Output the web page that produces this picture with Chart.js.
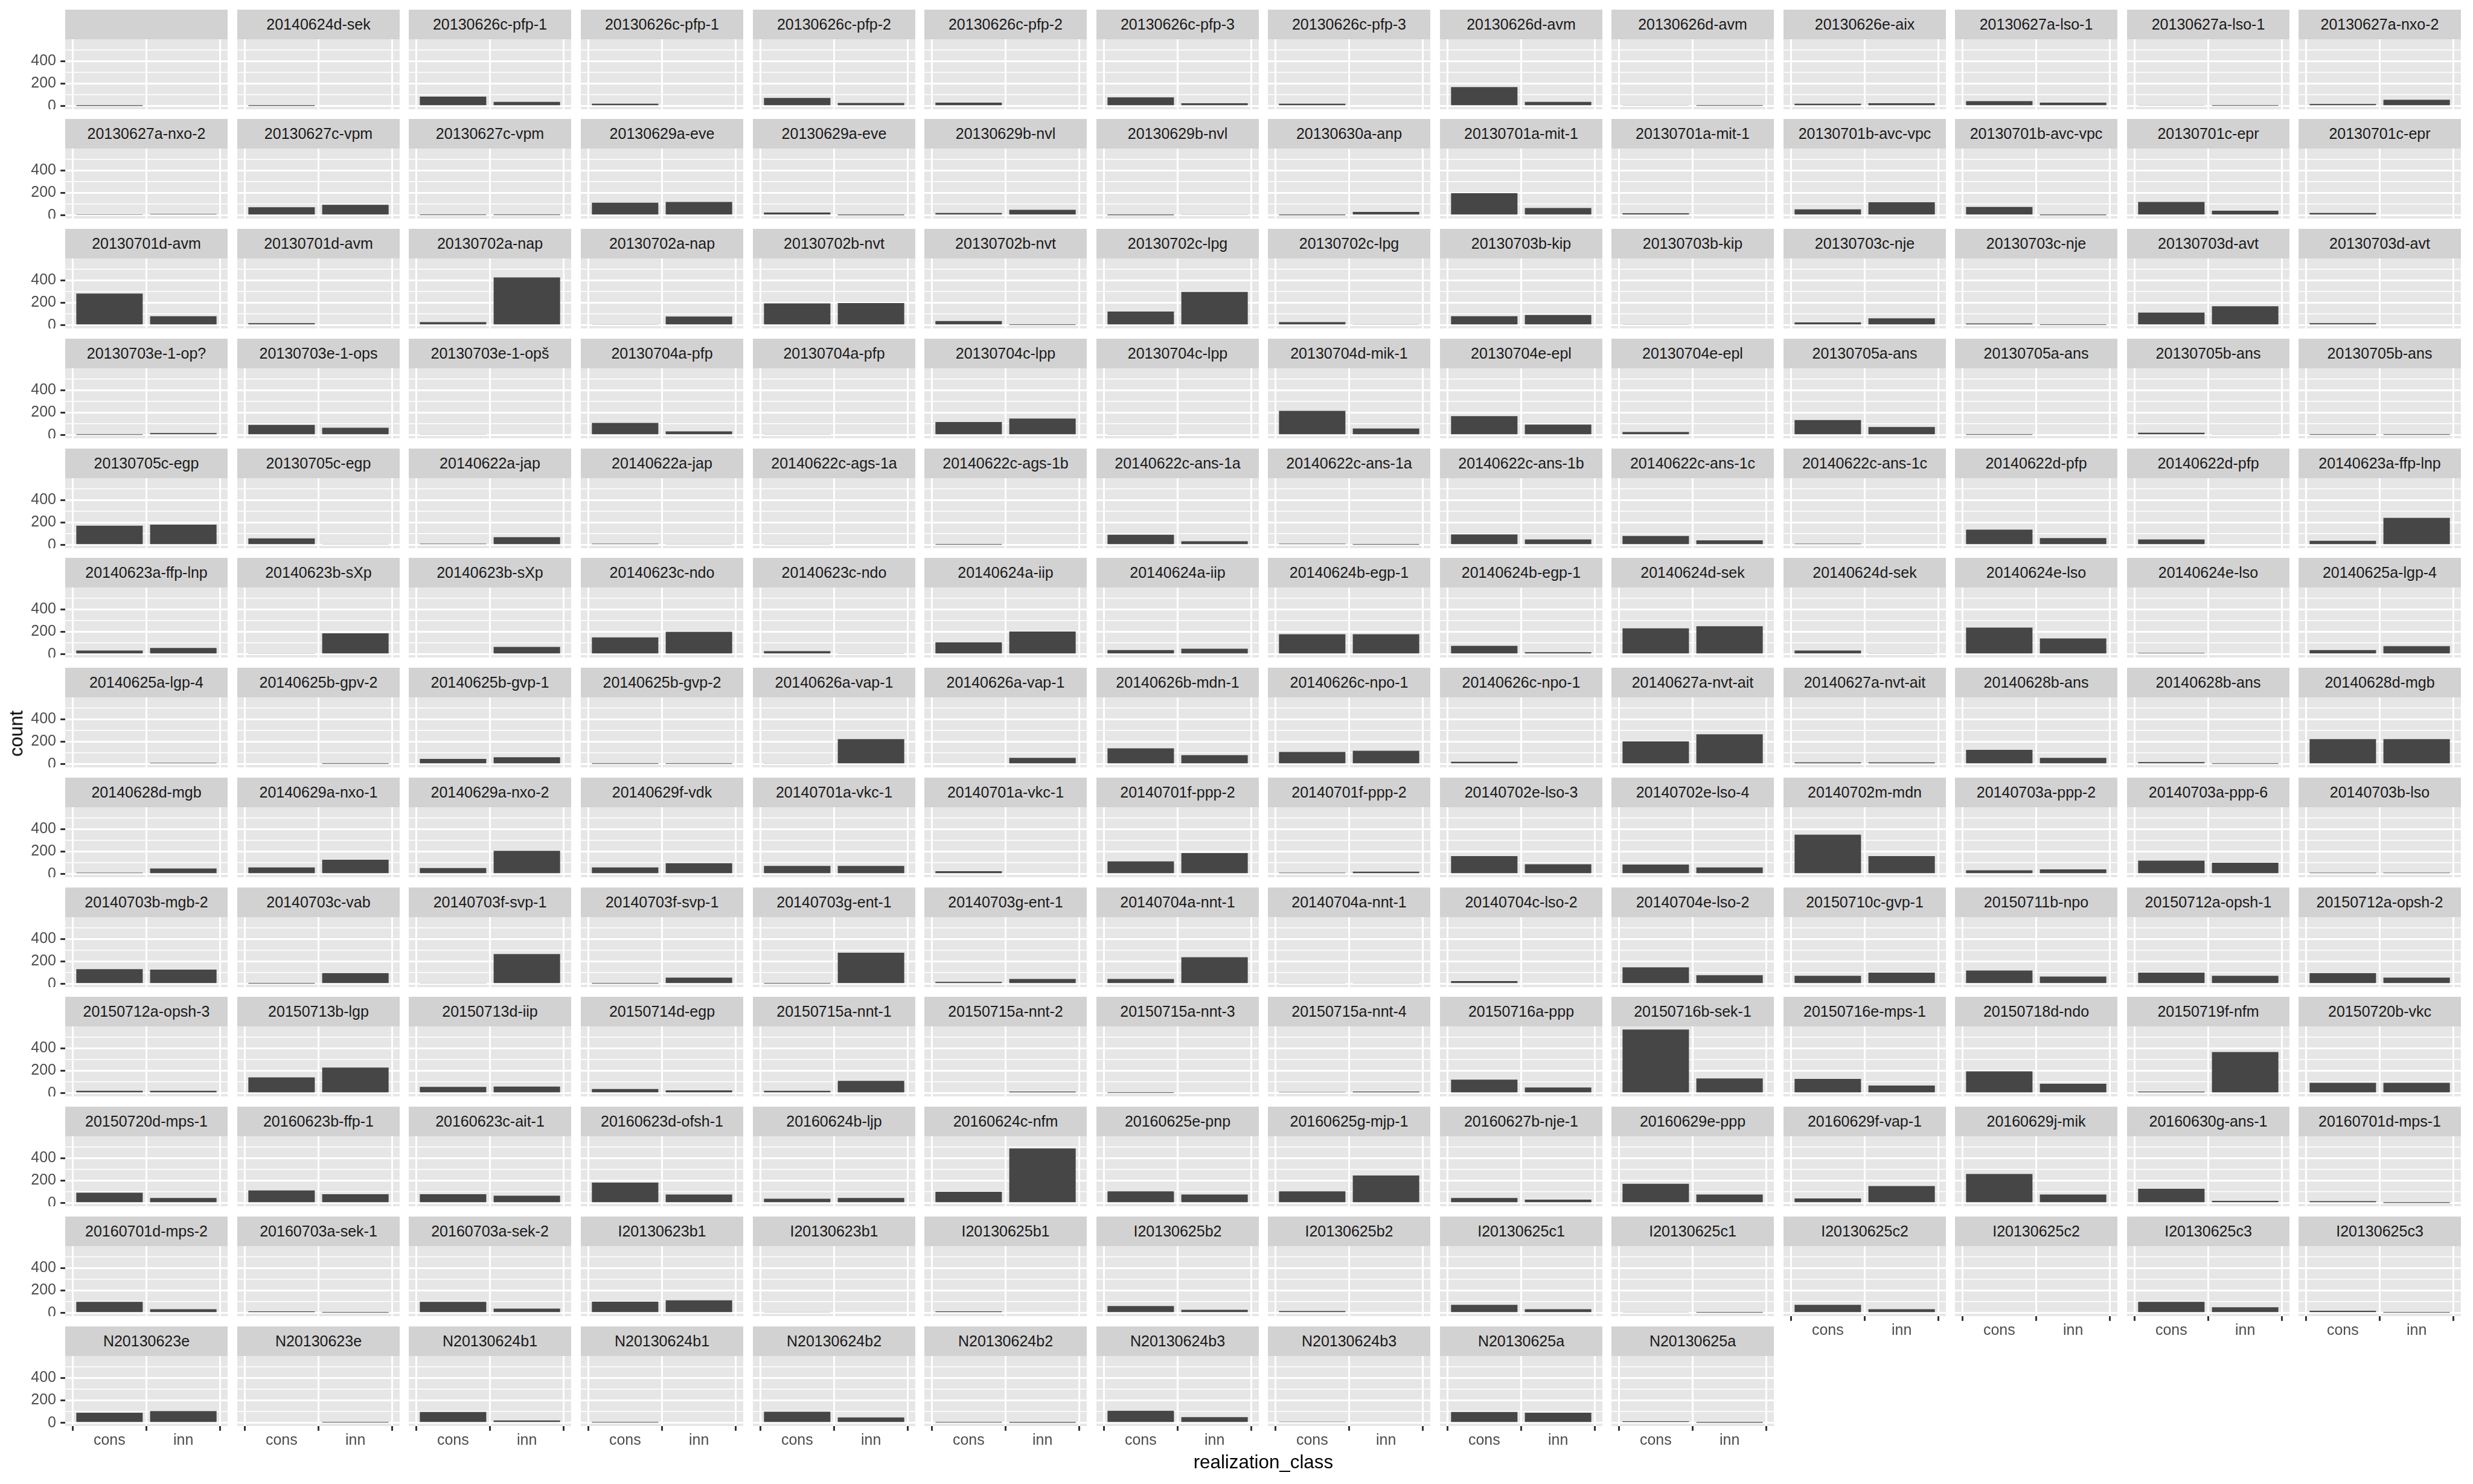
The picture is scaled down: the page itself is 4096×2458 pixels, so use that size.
<!DOCTYPE html>
<html>
<head>
<meta charset="utf-8">
<script src="https://cdn.jsdelivr.net/npm/chart.js@4.4.0/dist/chart.umd.min.js"></script>
<style>
html, body { margin: 0; padding: 0; background: #ffffff; }
#root { position: relative; width: 4096px; height: 2458px; overflow: hidden; font-family: "Liberation Sans", Arial, Helvetica, sans-serif; }
.strip { position: absolute; background: #D2D2D2; color: #1A1A1A; font-size: 25px; line-height: 1; display: flex; align-items: center; justify-content: center; white-space: nowrap; overflow: hidden; }
canvas { position: absolute; }
.axtitle { position: absolute; color: #000000; font-size: 31.3px; line-height: 1; white-space: nowrap; transform: translate(-50%, -50%); }
</style>
</head>
<body>
<div id="root"></div>
<script>
// ---------------- data ----------------
const categories = ['cons', 'inn'];
const yTickLabels = [0, 200, 400];
const yGridBreaks = [0, 100, 200, 300, 400, 500];

const facetLabels = [
  '', '20140624d-sek', '20130626c-pfp-1', '20130626c-pfp-1', '20130626c-pfp-2', '20130626c-pfp-2', '20130626c-pfp-3', '20130626c-pfp-3', '20130626d-avm', '20130626d-avm', '20130626e-aix', '20130627a-lso-1', '20130627a-lso-1', '20130627a-nxo-2',
  '20130627a-nxo-2', '20130627c-vpm', '20130627c-vpm', '20130629a-eve', '20130629a-eve', '20130629b-nvl', '20130629b-nvl', '20130630a-anp', '20130701a-mit-1', '20130701a-mit-1', '20130701b-avc-vpc', '20130701b-avc-vpc', '20130701c-epr', '20130701c-epr',
  '20130701d-avm', '20130701d-avm', '20130702a-nap', '20130702a-nap', '20130702b-nvt', '20130702b-nvt', '20130702c-lpg', '20130702c-lpg', '20130703b-kip', '20130703b-kip', '20130703c-nje', '20130703c-nje', '20130703d-avt', '20130703d-avt',
  '20130703e-1-op?', '20130703e-1-ops', '20130703e-1-opš', '20130704a-pfp', '20130704a-pfp', '20130704c-lpp', '20130704c-lpp', '20130704d-mik-1', '20130704e-epl', '20130704e-epl', '20130705a-ans', '20130705a-ans', '20130705b-ans', '20130705b-ans',
  '20130705c-egp', '20130705c-egp', '20140622a-jap', '20140622a-jap', '20140622c-ags-1a', '20140622c-ags-1b', '20140622c-ans-1a', '20140622c-ans-1a', '20140622c-ans-1b', '20140622c-ans-1c', '20140622c-ans-1c', '20140622d-pfp', '20140622d-pfp', '20140623a-ffp-lnp',
  '20140623a-ffp-lnp', '20140623b-sXp', '20140623b-sXp', '20140623c-ndo', '20140623c-ndo', '20140624a-iip', '20140624a-iip', '20140624b-egp-1', '20140624b-egp-1', '20140624d-sek', '20140624d-sek', '20140624e-lso', '20140624e-lso', '20140625a-lgp-4',
  '20140625a-lgp-4', '20140625b-gpv-2', '20140625b-gvp-1', '20140625b-gvp-2', '20140626a-vap-1', '20140626a-vap-1', '20140626b-mdn-1', '20140626c-npo-1', '20140626c-npo-1', '20140627a-nvt-ait', '20140627a-nvt-ait', '20140628b-ans', '20140628b-ans', '20140628d-mgb',
  '20140628d-mgb', '20140629a-nxo-1', '20140629a-nxo-2', '20140629f-vdk', '20140701a-vkc-1', '20140701a-vkc-1', '20140701f-ppp-2', '20140701f-ppp-2', '20140702e-lso-3', '20140702e-lso-4', '20140702m-mdn', '20140703a-ppp-2', '20140703a-ppp-6', '20140703b-lso',
  '20140703b-mgb-2', '20140703c-vab', '20140703f-svp-1', '20140703f-svp-1', '20140703g-ent-1', '20140703g-ent-1', '20140704a-nnt-1', '20140704a-nnt-1', '20140704c-lso-2', '20140704e-lso-2', '20150710c-gvp-1', '20150711b-npo', '20150712a-opsh-1', '20150712a-opsh-2',
  '20150712a-opsh-3', '20150713b-lgp', '20150713d-iip', '20150714d-egp', '20150715a-nnt-1', '20150715a-nnt-2', '20150715a-nnt-3', '20150715a-nnt-4', '20150716a-ppp', '20150716b-sek-1', '20150716e-mps-1', '20150718d-ndo', '20150719f-nfm', '20150720b-vkc',
  '20150720d-mps-1', '20160623b-ffp-1', '20160623c-ait-1', '20160623d-ofsh-1', '20160624b-ljp', '20160624c-nfm', '20160625e-pnp', '20160625g-mjp-1', '20160627b-nje-1', '20160629e-ppp', '20160629f-vap-1', '20160629j-mik', '20160630g-ans-1', '20160701d-mps-1',
  '20160701d-mps-2', '20160703a-sek-1', '20160703a-sek-2', 'I20130623b1', 'I20130623b1', 'I20130625b1', 'I20130625b2', 'I20130625b2', 'I20130625c1', 'I20130625c1', 'I20130625c2', 'I20130625c2', 'I20130625c3', 'I20130625c3',
  'N20130623e', 'N20130623e', 'N20130624b1', 'N20130624b1', 'N20130624b2', 'N20130624b2', 'N20130624b3', 'N20130624b3', 'N20130625a', 'N20130625a'
];

const consCounts = [
  1, 1, 84, 22, 72, 31, 78, 22, 169, 9, 22, 44, 9, 19,
  5, 72, 3, 112, 25, 22, 1, 1, 197, 19, 53, 75, 119, 22,
  281, 19, 28, 9, 194, 37, 122, 28, 81, 6, 25, 16, 112, 19,
  3, 91, 6, 109, 6, 116, 6, 216, 169, 28, 134, 3, 22, 3,
  172, 59, 12, 12, 6, 2, 91, 12, 94, 81, 12, 137, 50, 37,
  34, 6, 0, 150, 28, 106, 37, 178, 75, 231, 34, 237, 12, 37,
  0, 0, 47, 3, 6, 0, 141, 109, 22, 203, 16, 128, 19, 222,
  12, 59, 53, 59, 72, 25, 112, 12, 159, 84, 350, 34, 119, 12,
  131, 3, 6, 3, 3, 19, 44, 9, 25, 147, 72, 119, 100, 97,
  22, 141, 56, 37, 22, 8, 3, 11, 121, 566, 127, 194, 14, 93,
  93, 113, 79, 183, 39, 101, 104, 104, 45, 172, 42, 259, 127, 17,
  99, 14, 99, 101, 6, 14, 62, 17, 73, 6, 73, 8, 99, 20,
  90, 8, 96, 3, 99, 3, 107, 11, 96, 14
];

const innCounts = [
  0, 0, 37, 0, 28, 0, 25, 0, 37, 3, 25, 31, 3, 56,
  12, 94, 3, 119, 1, 50, 9, 31, 66, 0, 116, 1, 41, 0,
  81, 0, 425, 78, 197, 3, 297, 6, 91, 0, 62, 3, 169, 0,
  19, 66, 0, 34, 0, 147, 0, 59, 94, 0, 72, 0, 9, 3,
  181, 6, 69, 9, 0, 0, 34, 3, 50, 41, 0, 62, 0, 241,
  56, 187, 66, 200, 6, 203, 50, 178, 19, 250, 6, 141, 0, 72,
  12, 3, 62, 3, 222, 56, 81, 119, 0, 266, 16, 56, 3, 222,
  50, 128, 206, 97, 72, 0, 187, 22, 87, 59, 159, 41, 100, 12,
  128, 97, 266, 56, 278, 44, 237, 9, 0, 78, 100, 66, 72, 56,
  22, 228, 59, 25, 110, 14, 8, 14, 51, 132, 68, 84, 366, 93,
  45, 79, 65, 76, 45, 485, 76, 245, 31, 76, 152, 76, 20, 1,
  34, 3, 39, 113, 0, 8, 28, 0, 34, 3, 34, 0, 51, 3,
  104, 3, 22, 0, 48, 1, 51, 0, 90, 1
];

// ---------------- layout / style ----------------
const S = 0.682;
const NCOL = 14;
const FONT = '"Liberation Sans", Arial, Helvetica, sans-serif';
const BAR = '#464646';
const PANEL = '#E6E6E6';
const GRID = '#FFFFFF';
const TICKCOL = '#333333';
const TEXTCOL = '#4D4D4D';

const panelX0 = 159 * S, colPitch = 417.2 * S, panelW = Math.round(394 * S);
const rowY0 = 23 * S, rowPitch = 266.5 * S, stripH = Math.round(72 * S), plotH = Math.round(170.5 * S);
const Y_AXIS_W = 100, X_AXIS_H = 52;
const TICK_LEN = 7.8, MAJOR_W = 3, MINOR_W = 1.5;

const allCounts = consCounts.concat(innCounts);
const yTop = Math.max(...allCounts);
const yMin = -0.05 * yTop, yMax = 1.05 * yTop;

const root = document.getElementById('root');

const panelBg = {
  id: 'panelBg',
  beforeDraw(chart) {
    const { ctx, chartArea: a } = chart;
    ctx.save();
    ctx.fillStyle = PANEL;
    ctx.fillRect(a.left, a.top, a.right - a.left, a.bottom - a.top);
    ctx.restore();
  }
};

const n = facetLabels.length;
for (let i = 0; i < n; i++) {
  const r = Math.floor(i / NCOL), c = i % NCOL;
  const hasY = c === 0;
  const hasX = i + NCOL >= n;
  const px = Math.round(panelX0 + c * colPitch);
  const sy = Math.round(rowY0 + r * rowPitch);
  const py = sy + stripH;

  const strip = document.createElement('div');
  strip.className = 'strip';
  strip.style.left = px + 'px';
  strip.style.top = sy + 'px';
  strip.style.width = panelW + 'px';
  strip.style.height = stripH + 'px';
  strip.textContent = facetLabels[i];
  root.appendChild(strip);

  const cv = document.createElement('canvas');
  const cw = panelW + (hasY ? Y_AXIS_W : 0);
  const ch = plotH + (hasX ? X_AXIS_H : 0);
  cv.width = cw; cv.height = ch;
  cv.style.width = cw + 'px'; cv.style.height = ch + 'px';
  cv.style.left = (px - (hasY ? Y_AXIS_W : 0)) + 'px';
  cv.style.top = py + 'px';
  root.appendChild(cv);

  new Chart(cv, {
    type: 'bar',
    data: {
      datasets: [{
        data: categories.map((k, j) => ({ x: j + 1, y: j === 0 ? consCounts[i] : innCounts[i] })),
        backgroundColor: BAR,
        borderWidth: 0,
        barPercentage: 0.9,
        categoryPercentage: 1
      }]
    },
    options: {
      responsive: false,
      maintainAspectRatio: false,
      animation: false,
      devicePixelRatio: 1,
      events: [],
      layout: { padding: 0 },
      plugins: { legend: { display: false }, tooltip: { enabled: false }, title: { display: false } },
      scales: {
        x: {
          type: 'linear',
          min: 0.4, max: 2.6,
          offset: false,
          afterBuildTicks: s => { s.ticks = categories.map((k, j) => ({ value: j + 1 })); },
          afterFit: s => { s.height = hasX ? X_AXIS_H : 0; s.paddingLeft = 0; s.paddingRight = 0; },
          ticks: {
            display: hasX, autoSkip: false, maxRotation: 0, minRotation: 0,
            padding: 1,
            color: TEXTCOL, font: { family: FONT, size: 25 },
            callback: v => categories[v - 1] ?? ''
          },
          grid: { color: GRID, lineWidth: MAJOR_W, drawTicks: hasX, tickLength: TICK_LEN, tickColor: TICKCOL, tickWidth: MAJOR_W },
          border: { display: false }
        },
        y: {
          type: 'linear',
          min: yMin, max: yMax,
          afterBuildTicks: s => { s.ticks = yGridBreaks.map(v => ({ value: v })); },
          afterFit: s => { s.width = hasY ? Y_AXIS_W : 0; s.paddingTop = 0; s.paddingBottom = 0; },
          ticks: {
            display: hasY, autoSkip: false,
            padding: 7.2,
            color: TEXTCOL, font: { family: FONT, size: 25 },
            callback: v => yTickLabels.includes(v) ? String(v) : ''
          },
          grid: {
            color: GRID,
            lineWidth: ctx => (ctx.tick && yTickLabels.includes(ctx.tick.value)) ? MAJOR_W : MINOR_W,
            drawTicks: hasY, tickLength: TICK_LEN,
            tickColor: ctx => (ctx.tick && yTickLabels.includes(ctx.tick.value)) ? TICKCOL : 'rgba(0,0,0,0)',
            tickWidth: MAJOR_W
          },
          border: { display: false }
        }
      }
    },
    plugins: [panelBg]
  });
}

// axis titles
const xt = document.createElement('div');
xt.className = 'axtitle';
xt.textContent = 'realization_class';
xt.style.left = (3068 * S) + 'px';
xt.style.top = (3552 * S) + 'px';
root.appendChild(xt);

const yt = document.createElement('div');
yt.className = 'axtitle';
yt.textContent = 'count';
yt.style.left = (40 * S) + 'px';
yt.style.top = (1782 * S) + 'px';
yt.style.transform = 'translate(-50%, -50%) rotate(-90deg)';
root.appendChild(yt);
</script>
</body>
</html>
